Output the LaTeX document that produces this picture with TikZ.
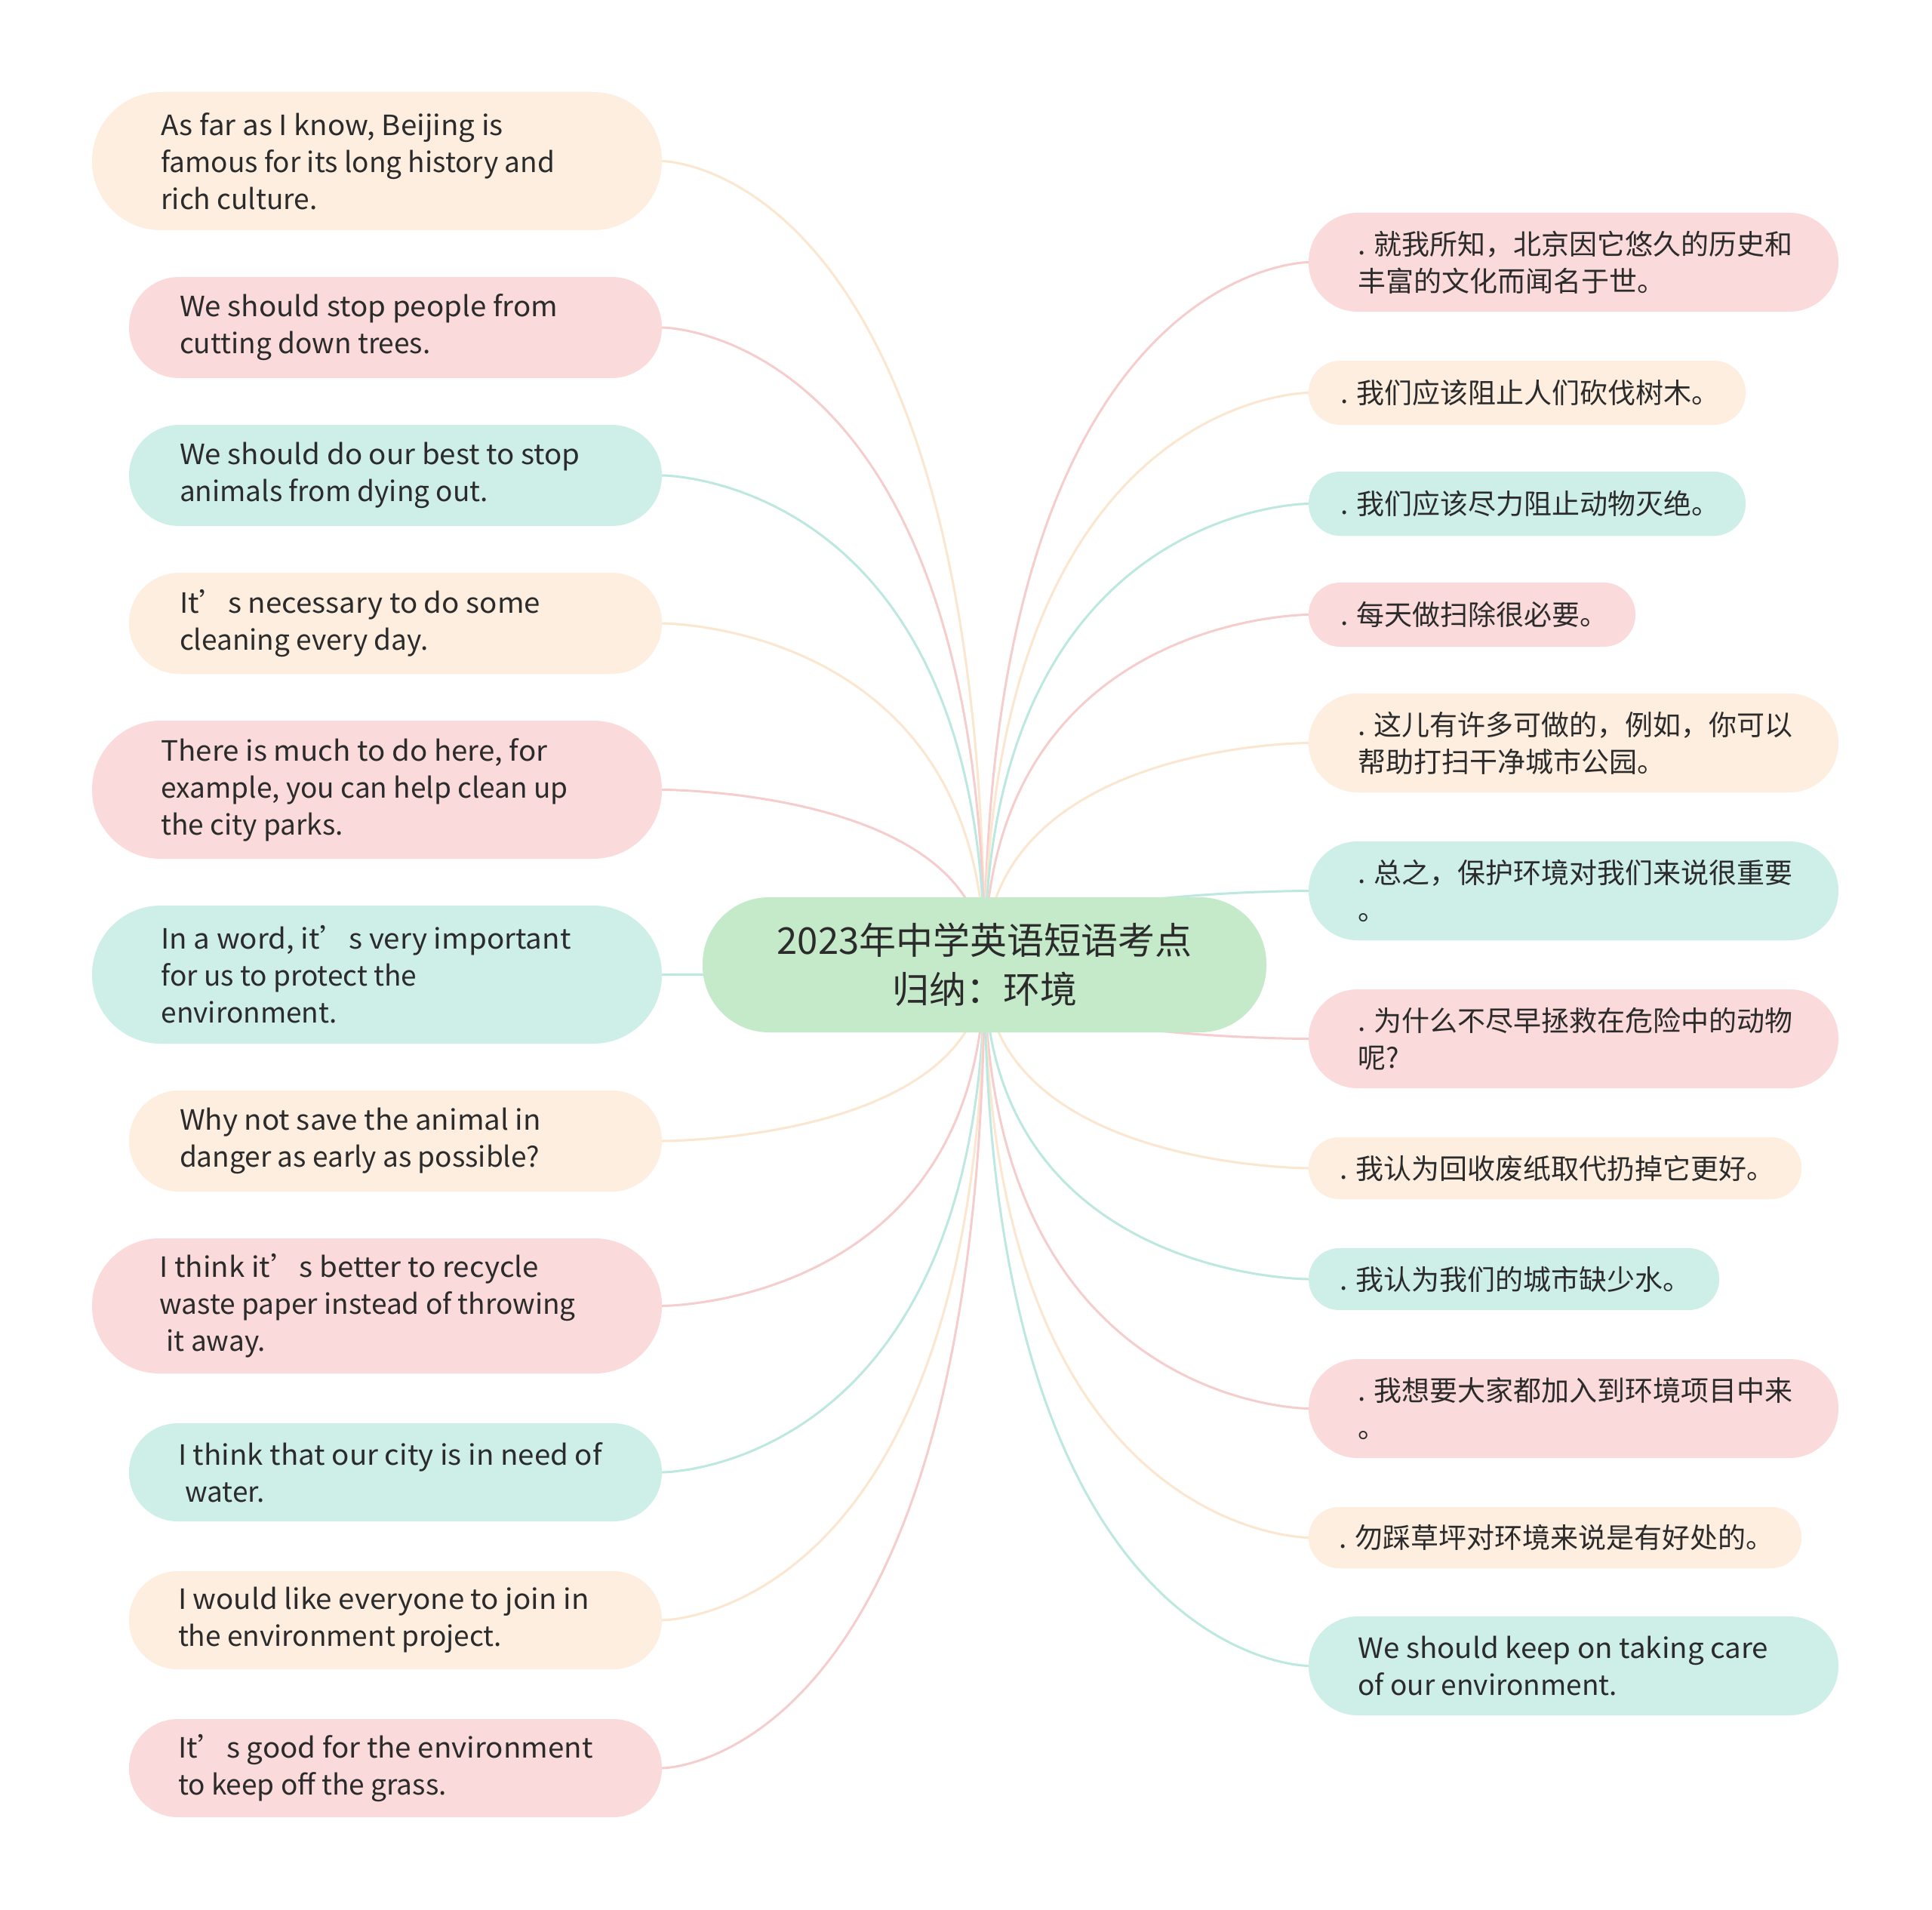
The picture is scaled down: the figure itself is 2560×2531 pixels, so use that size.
\documentclass[tikz,border=0pt]{standalone}
\usepackage{fontspec}
\setmainfont{Noto Sans CJK SC}
\newfontfamily\enfont[FakeStretch=1.04]{Noto Sans CJK SC}
\definecolor{creamf}{HTML}{FDEEDF}
\definecolor{pinkf}{HTML}{FADADA}
\definecolor{tealf}{HTML}{CDEFE8}
\definecolor{greenf}{HTML}{C5EACA}
\definecolor{creaml}{HTML}{FBE6CF}
\definecolor{pinkl}{HTML}{F5CDCD}
\definecolor{teall}{HTML}{BCE8E0}
\definecolor{textc}{HTML}{2B2B2B}
\tikzset{
  txt/.style={inner sep=0pt, align=left, text=textc, font=\fontsize{18.5pt}{24.5pt}\selectfont},
  ctxt/.style={inner sep=0pt, align=center, text=textc, font=\fontsize{24.5pt}{32.5pt}\selectfont},
  lk/.style={line width=1.5pt}
}
\newcommand\boxnode[7]{%
  \pgfmathsetmacro\bw{(#3-#2)/2}%
  \pgfmathsetmacro\bh{(#5-#4)/2}%
  \pgfmathsetmacro\bcx{(#2+#3)/2}%
  \pgfmathsetmacro\bcy{(#4+#5)/2}%
  \pgfmathsetmacro\br{\bh/2-0.3}%
  \pgfmathsetmacro\bi{\bh/2}%
  \node[fill=#6, draw=none, minimum width=\bw pt, minimum height=\bh pt, inner sep=0pt, rounded corners=\br pt] (#1) at (\bcx,\bcy) {};
  \node[txt, anchor=west] (#1t) at ([xshift=\bi pt]#1.west) {#7};
}
\begin{document}
\begin{tikzpicture}[x=0.5pt,y=-0.5pt]
\useasboundingbox[fill=white] (0,0) rectangle (2560,2531);
\coordinate (Cc) at (1304.5,1278.5);
\foreach \n/\y/\c in {L1/213.5/creaml, L2/434/pinkl, L3/630/teall, L4/826/creaml, L5/1046.5/pinkl, L6/1291.5/teall, L7/1512/creaml, L8/1730.5/pinkl, L9/1951/teall, L10/2147/creaml, L11/2343/pinkl}{
  \coordinate (\n e) at (877,\y);
  \draw[lk, draw=\c] (Cc) .. controls (Cc |- \n e) and (\n e) .. (\n e);
}
\foreach \n/\y/\c in {R1/347.5/pinkl, R2/520.5/creaml, R3/667.5/teall, R4/814.5/pinkl, R5/984.5/creaml, R6/1180.5/teall, R7/1376.5/pinkl, R8/1548/creaml, R9/1695/teall, R10/1866.5/pinkl, R11/2037.5/creaml, R12/2207.5/teall}{
  \coordinate (\n w) at (1734,\y);
  \draw[lk, draw=\c] (Cc) .. controls (Cc |- \n w) and (\n w) .. (\n w);
}
\node[fill=greenf, minimum width=373.5pt, minimum height=89.5pt, inner sep=0pt, rounded corners=44pt] (C) at (1304.5,1278.5) {};
\node[ctxt] (Ct) at (C.center) {2023年中学英语短语考点\\归纳：环境};
\boxnode{L1}{122}{877}{122}{305}{creamf}{\enfont As far as I know, Beijing is\\famous for its long history and\\rich culture.}
\boxnode{L2}{171}{877}{367}{501}{pinkf}{\enfont We should stop people from\\cutting down trees.}
\boxnode{L3}{171}{877}{563}{697}{tealf}{\enfont We should do our best to stop\\animals from dying out.}
\boxnode{L4}{171}{877}{759}{893}{creamf}{\enfont It’s necessary to do some\\cleaning every day.}
\boxnode{L5}{122}{877}{955}{1138}{pinkf}{\enfont There is much to do here, for\\example, you can help clean up\\the city parks.}
\boxnode{L6}{122}{877}{1200}{1383}{tealf}{\enfont In a word, it’s very important\\for us to protect the\\environment.}
\boxnode{L7}{171}{877}{1445}{1579}{creamf}{\enfont Why not save the animal in\\danger as early as possible?}
\boxnode{L8}{122}{877}{1641}{1820}{pinkf}{\enfont I think it’s better to recycle\\waste paper instead of throwing\\\hspace*{0.25em}it away.}
\boxnode{L9}{171}{877}{1886}{2016}{tealf}{\enfont I think that our city is in need of\\\hspace*{0.25em}water.}
\boxnode{L10}{171}{877}{2082}{2212}{creamf}{\enfont I would like everyone to join in\\the environment project.}
\boxnode{L11}{171}{877}{2278}{2408}{pinkf}{\enfont It’s good for the environment\\to keep off the grass.}
\boxnode{R1}{1734}{2436}{282}{413}{pinkf}{. 就我所知，北京因它悠久的历史和\\丰富的文化而闻名于世。}
\boxnode{R2}{1734}{2313}{478}{563}{creamf}{. 我们应该阻止人们砍伐树木。}
\boxnode{R3}{1734}{2313}{625}{710}{tealf}{. 我们应该尽力阻止动物灭绝。}
\boxnode{R4}{1734}{2167}{772}{857}{pinkf}{. 每天做扫除很必要。}
\boxnode{R5}{1734}{2436}{919}{1050}{creamf}{. 这儿有许多可做的，例如，你可以\\帮助打扫干净城市公园。}
\boxnode{R6}{1734}{2436}{1115}{1246}{tealf}{. 总之，保护环境对我们来说很重要\\。}
\boxnode{R7}{1734}{2436}{1311}{1442}{pinkf}{. 为什么不尽早拯救在危险中的动物\\呢?}
\boxnode{R8}{1734}{2387}{1507}{1589}{creamf}{. 我认为回收废纸取代扔掉它更好。}
\boxnode{R9}{1734}{2278}{1654}{1736}{tealf}{. 我认为我们的城市缺少水。}
\boxnode{R10}{1734}{2436}{1801}{1932}{pinkf}{. 我想要大家都加入到环境项目中来\\。}
\boxnode{R11}{1734}{2387}{1997}{2078}{creamf}{. 勿踩草坪对环境来说是有好处的。}
\boxnode{R12}{1734}{2436}{2142}{2273}{tealf}{\enfont We should keep on taking care\\of our environment.}
\end{tikzpicture}
\end{document}
